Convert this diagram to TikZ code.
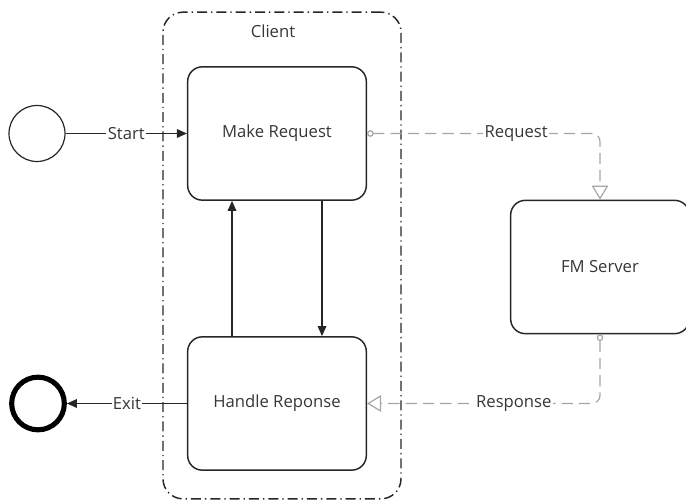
\documentclass[tikz,border=0pt]{standalone}
\usepackage{fontspec}
\setmainfont{Open Sans}
\usetikzlibrary{arrows.meta}
\definecolor{txt}{HTML}{363636}
\definecolor{ln}{HTML}{262626}
\definecolor{gl}{HTML}{A6A6A6}
\begin{document}
\begin{tikzpicture}[x=0.75pt,y=-0.75pt,
  every node/.style={font=\fontsize{12.5}{15}\selectfont, text=txt},
  task/.style={draw=ln, line width=1.1pt, rounded corners=11pt, minimum width=134pt, minimum height=100pt},
  group/.style={draw=ln, line width=1.1pt, rounded corners=15pt, minimum width=178.5pt, minimum height=365pt,
     dash pattern=on 7.5pt off 3pt on 1pt off 3pt},
  evt/.style={circle, draw=ln, line width=0.9pt, minimum size=42pt, inner sep=0pt},
  endevt/.style={circle, draw=black, line width=3.8pt, minimum size=39.5pt, inner sep=0pt},
  flow/.style={draw=ln, line width=0.9pt, -{Triangle[length=7.5pt,width=6.5pt]}},
  msg/.style={draw=gl, line width=0.9pt, dash pattern=on 8.5pt off 4.5pt, rounded corners=6pt,
     {Circle[open,length=5pt,width=5pt]}-{Triangle[open,length=10.5pt,width=12.5pt]}},
  lbl/.style={fill=white, inner sep=1pt}
]
\useasboundingbox (0,0) rectangle (686,502);
\node[group] (client) at (282,255.5) {};
\node (clientlbl) at (273,31) {Client};
\node[task] (make) at (277,133.5) {Make Request};
\node[task] (handle) at (277,403.5) {Handle Reponse};
\node[task] (fm) at (600,267) {FM Server};
\node[evt] (start) at (37,133.5) {};
\node[endevt] (exit) at (38,403.5) {};
\coordinate (ux) at (232,0);
\coordinate (dx) at (322,0);
\draw[flow] (start) -- node[lbl] {Start} (make);
\draw[flow] (handle) -- node[lbl] {Exit} (exit);
\draw[flow] (handle.north -| ux) -- (make.south -| ux);
\draw[flow] (make.south -| dx) -- (handle.north -| dx);
\draw[msg] (make.east) -- node[lbl,pos=0.64] {Request} (make.east -| fm.north) -- (fm.north);
\draw[msg] (fm.south) -- (fm.south |- handle.east) -- node[lbl,pos=0.37] {Response} (handle.east);
\end{tikzpicture}
\end{document}
